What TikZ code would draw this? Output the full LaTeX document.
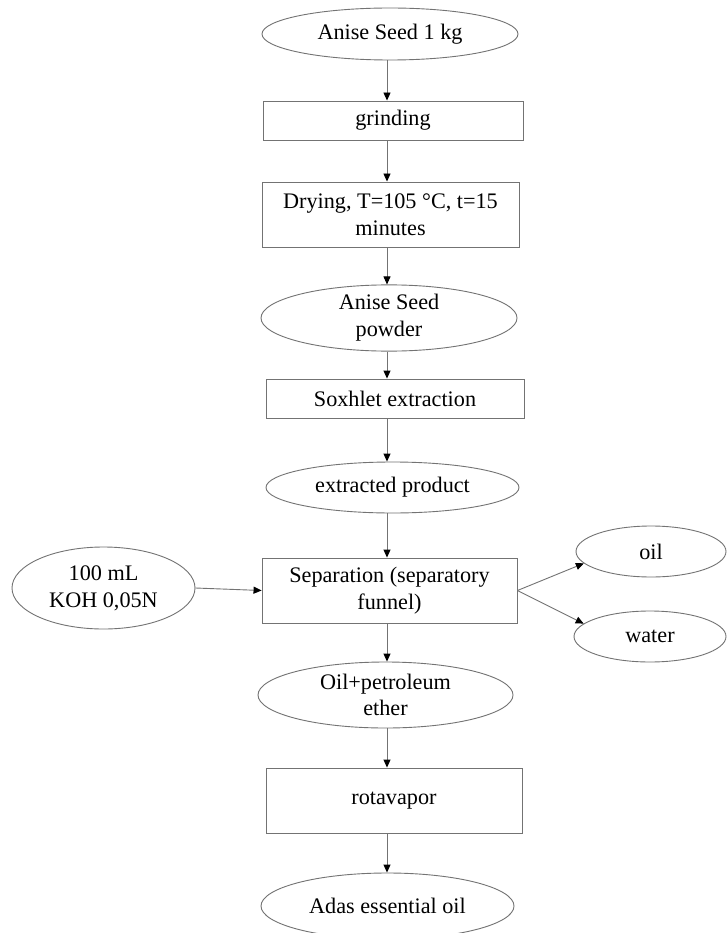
\documentclass[tikz,border=0pt]{standalone}
\usepackage{fontspec}
\setmainfont{Liberation Serif}
\usetikzlibrary{shapes.geometric,arrows.meta}
\definecolor{edgegray}{RGB}{115,115,115}
\tikzset{
  base/.style={draw=edgegray, line width=0.9pt, inner sep=0pt, align=center,
    font=\fontsize{22.2pt}{26.7pt}\selectfont, text=black},
  procbox/.style={base, rectangle, minimum width=#1},
  oval/.style={base, ellipse},
  arr/.style={draw=edgegray, line width=0.9pt,
    -{Triangle[length=8pt,width=7pt,color=black]}}
}
\begin{document}
\begin{tikzpicture}[x=1pt,y=-1pt]
\useasboundingbox (0,0) rectangle (727,933);
\fill[white] (0,0) rectangle (727,933);
\coordinate (col) at (387,0);

\node[oval, minimum width=256pt, minimum height=52pt] (a) at (390,34) {Anise Seed 1 kg};
\node[procbox=260pt, minimum height=39pt] (b) at (393,120.5) {grinding};
\node[procbox=257pt, minimum height=65pt] (c) at (390.5,214.5) {Drying, T=105 °C, t=15\\minutes};
\node[oval, minimum width=256pt, minimum height=62pt] (d) at (389,318) {Anise Seed\\powder};
\node[procbox=258pt, minimum height=39pt] (e) at (395,398.5) {Soxhlet extraction};
\node[oval, minimum width=253pt, minimum height=51pt] (f) at (392.5,487.5) {extracted product};
\node[procbox=255pt, minimum height=65pt] (g) at (389.5,590.5) {Separation (separatory\\funnel)};
\node[oval, minimum width=183pt, minimum height=82pt] (h) at (103.5,588) {100 mL\\KOH 0,05N};
\node[oval, minimum width=150pt, minimum height=51pt] (i) at (651,551.5) {oil};
\node[oval, minimum width=152pt, minimum height=51pt] (j) at (650,636.5) {water};
\node[oval, minimum width=255pt, minimum height=66pt] (k) at (385.5,695) {Oil+petroleum\\ether};
\node[procbox=256pt, minimum height=65pt] (l) at (394,800.5) {rotavapor};
\node[oval, minimum width=253pt, minimum height=66pt] (m) at (387.5,906) {Adas essential oil};

\draw[arr] (a.south -| col) -- (b.north -| col);
\draw[arr] (b.south -| col) -- (c.north -| col);
\draw[arr] (c.south -| col) -- (d.north -| col);
\draw[arr] (d.south -| col) -- (e.north -| col);
\draw[arr] (e.south -| col) -- (f.north -| col);
\draw[arr] (f.south -| col) -- (g.north -| col);
\draw[arr] (g.south -| col) -- (k.north -| col);
\draw[arr] (k.south -| col) -- (l.north -| col);
\draw[arr] (l.south -| col) -- (m.north -| col);
\draw[arr] (h.east) -- (g.west);
\draw[arr] (g.east) -- (i.190);
\draw[arr] (g.east) -- (j.169);
\end{tikzpicture}
\end{document}
